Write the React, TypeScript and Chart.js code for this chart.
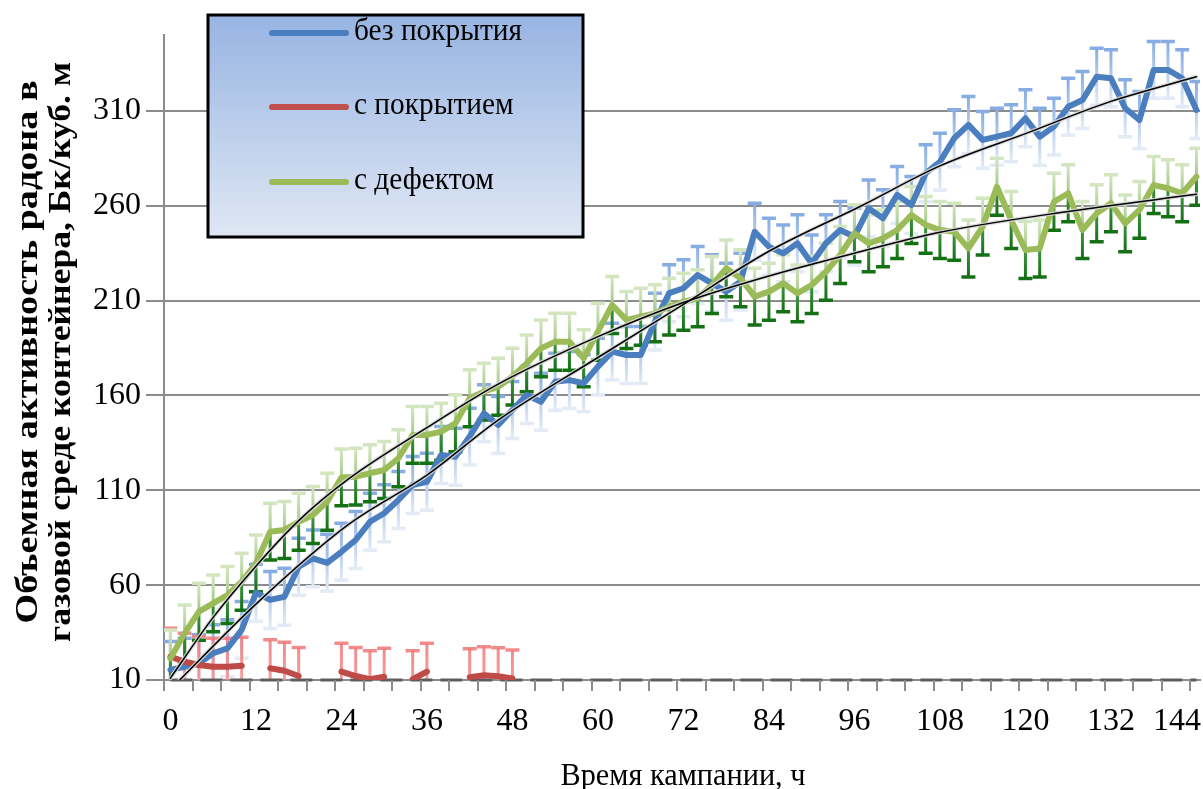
import React, { useEffect, useRef } from "react";
import { Chart, registerables } from "chart.js";

Chart.register(...registerables);

// ---- data ----
const hours = [
  0, 2, 4, 6, 8, 10, 12, 14, 16, 18, 20, 22, 24, 26, 28, 30, 32, 34, 36, 38, 40, 42, 44, 46, 48,
  50, 52, 54, 56, 58, 60, 62, 64, 66, 68, 70, 72, 74, 76, 78, 80, 82, 84, 86, 88, 90, 92, 94, 96,
  98, 100, 102, 104, 106, 108, 110, 112, 114, 116, 118, 120, 122, 124, 126, 128, 130, 132, 134,
  136, 138, 140, 142, 144,
];

const bezPokrytiya = [
  15.3, 17.0, 18.8, 24.1, 26.7, 36.4, 56.0, 52.2, 53.9, 69.7, 74.1, 71.8, 77.6, 83.8, 93.4, 97.9,
  104.9, 112.8, 114.5,
  128.6, 127.7, 138.3, 150.6, 144.4, 152.3, 160.2, 156.7, 167.2, 168.1, 166.4, 175.2, 183.1, 181.3,
  181.3, 198.9, 213.9, 216.5, 223.5,
  219.1, 214.7, 220.0, 246.3, 238.4, 234.9, 240.2, 229.6, 240.2, 247.2, 243.7, 258.6, 253.4, 265.7,
  260.4, 277.1,
  283.2, 295.6, 302.6, 294.7, 296.4, 298.2, 306.1, 296.4, 301.7, 312.2, 315.7, 328.0, 327.2, 311.4,
  305.2, 331.6, 331.6, 327.2, 310.5,
];

const sPokrytiem = [
  22.3, 19.6, 17.9, 17.0, 17.0, 17.5, null, 16.2, 14.9, 12.1, null, null, 14.4, 12.1, 10.4, 11.7,
  null, 10.4, 14.4, null, null, 11.5, 12.5, 12.0, 10.8,
  null, null, null, null, null, null, null, null, null, null, null, null, null, null, null, null,
  null, null, null, null, null, null, null, null, null, null, null, null, null, null, null, null,
  null, null, null, null, null, null, null, null, null, null, null, null, null, null, null, null,
];

const sDefektom = [
  21.4, 34.6, 46.0, 50.4, 54.8, 61.8, 71.5, 88.2, 89.1, 93.4, 97.0, 104.0, 116.8, 117.2, 119.0,
  120.7, 126.9, 139.2, 139.2,
  140.9, 145.3, 158.5, 162.0, 164.6, 169.9, 176.9, 184.8, 188.3, 188.3, 179.6, 193.6, 207.7, 199.8,
  201.5, 203.3, 206.8, 209.4, 211.2,
  218.2, 227.0, 221.8, 212.1, 214.7, 219.1, 213.8, 218.2, 225.2, 234.0, 245.5, 240.2, 242.8, 247.2,
  255.1, 249.9,
  247.2, 246.3, 237.5, 249.0, 270.0, 252.5, 236.7, 237.5, 262.1, 266.6, 247.2, 256.0, 261.3, 250.7,
  257.8, 270.9, 269.2, 266.6, 275.3,
];

// error bar half-lengths (Бк/куб. м)
const errBez = 15;
const errPok = 15;
const errDef = 15;

// trend lines
const trendBezHours = [0, 12, 25, 36, 46, 60, 72, 84, 97, 108, 120, 132, 144];
const trendBezValues = [5, 50, 92, 118, 147, 180, 208, 236, 260, 281, 298, 315, 328];
const trendDefHours = [0, 6, 12, 18, 25, 36, 46, 60, 72, 84, 96, 108, 126, 144];
const trendDefValues = [11, 43, 70, 94, 116, 143, 166, 191, 209, 223, 235, 246, 257, 266];

// grey dashed base line
const baseHours = [0, 144];
const baseValues = [10, 10];

const xLabels = [0, 12, 24, 36, 48, 60, 72, 84, 96, 108, 120, 132, 144];
const yTickValues = [10, 60, 110, 160, 210, 260, 310];

const legendLabels = ["без покрытия", "с покрытием", "с дефектом"];
const xTitle = "Время кампании, ч";
const yTitle = ["Объемная активность радона в", "газовой среде контейнера, Бк/куб. м"];

// ---- styling ----
const SERIF = "'Liberation Serif', 'Times New Roman', serif";
const BLUE = "#4a7ebf";
const RED = "#be4b48";
const GREEN = "#9bbb59";
const GRID = "#8c8c8c";

const pts = (xs: number[], ys: (number | null)[]) => xs.map((x, i) => ({ x, y: ys[i] }));

function drawBars(
  chart: any,
  values: (number | null)[],
  err: number,
  stops: [number, string][],
  capW: number
) {
  const { ctx, scales } = chart;
  const xs = scales.x;
  const ys = scales.y;
  values.forEach((v, i) => {
    if (v == null) return;
    const px = xs.getPixelForValue(hours[i]);
    const yt = ys.getPixelForValue(v + err);
    const yb = ys.getPixelForValue(v - err);
    const g = ctx.createLinearGradient(0, yt, 0, yb);
    stops.forEach(([o, c]) => g.addColorStop(o, c));
    ctx.strokeStyle = g;
    ctx.lineWidth = 3;
    ctx.beginPath();
    ctx.moveTo(px, yt);
    ctx.lineTo(px, yb);
    ctx.stroke();
    ctx.lineWidth = 3.5;
    ctx.beginPath();
    ctx.moveTo(px - capW / 2, yt);
    ctx.lineTo(px + capW / 2, yt);
    ctx.moveTo(px - capW / 2, yb);
    ctx.lineTo(px + capW / 2, yb);
    ctx.stroke();
  });
}

function squeezedText(
  ctx: CanvasRenderingContext2D,
  text: string,
  x: number,
  y: number,
  sx: number,
  align: "left" | "center"
) {
  ctx.save();
  ctx.translate(x, y);
  ctx.scale(sx, 1);
  ctx.textAlign = align;
  ctx.fillText(text, 0, 0);
  ctx.restore();
}

const decor = {
  id: "decor",
  beforeDatasetsDraw(chart: any) {
    const { ctx, chartArea } = chart;
    ctx.save();
    ctx.beginPath();
    ctx.rect(chartArea.left, chartArea.top, chartArea.right - chartArea.left, chartArea.bottom - chartArea.top);
    ctx.clip();
    drawBars(chart, bezPokrytiya, errBez, [[0, "#86ace3"], [1, "#e3ebf7"]], 14);
    drawBars(chart, sPokrytiem, errPok, [[0, "rgba(240,120,120,0.85)"], [1, "rgba(245,150,150,0.85)"]], 14);
    drawBars(
      chart,
      sDefektom,
      errDef,
      [[0, "#d4e6c0"], [0.45, "#a9cc8e"], [0.55, "#3d933c"], [1, "#137013"]],
      14
    );
    ctx.restore();
  },
  afterDraw(chart: any) {
    const { ctx, chartArea, scales } = chart;
    const xs = scales.x;
    ctx.save();
    // x tick marks every 4 h
    ctx.strokeStyle = GRID;
    ctx.lineWidth = 2;
    for (let v = xs.min; v <= xs.max; v += 4) {
      const px = Math.round(xs.getPixelForValue(v));
      ctx.beginPath();
      ctx.moveTo(px, chartArea.bottom);
      ctx.lineTo(px, chartArea.bottom + 11);
      ctx.stroke();
    }
    // x labels
    ctx.fillStyle = "#000";
    ctx.font = `32px ${SERIF}`;
    ctx.textBaseline = "middle";
    ctx.textAlign = "center";
    xLabels.forEach((l) => {
      const s = String(l);
      const w = ctx.measureText(s).width;
      let px = xs.getPixelForValue(l);
      if (px + w / 2 > 1201) px = 1201 - w / 2;
      ctx.fillText(s, px, 722);
    });
    // x title
    ctx.font = `32px ${SERIF}`;
    ctx.textBaseline = "alphabetic";
    const xtw = ctx.measureText(xTitle).width;
    squeezedText(ctx, xTitle, 683, 785, 245 / xtw, "center");
    // y title
    ctx.font = `bold 31px ${SERIF}`;
    ctx.textBaseline = "middle";
    const targets = [543, 580];
    const cxs = [29, 62];
    yTitle.forEach((t, i) => {
      const w = ctx.measureText(t).width;
      ctx.save();
      ctx.translate(cxs[i], 352);
      ctx.rotate(-Math.PI / 2);
      ctx.scale(targets[i] / w, 1);
      ctx.textAlign = "center";
      ctx.fillText(t, 0, 0);
      ctx.restore();
    });
    // legend box
    const bx = 208, by = 15, bw = 375, bh = 222;
    const g = ctx.createLinearGradient(0, by, 0, by + bh);
    g.addColorStop(0, "#97b4e2");
    g.addColorStop(1, "#dfe7f4");
    ctx.fillStyle = g;
    ctx.fillRect(bx, by, bw, bh);
    ctx.strokeStyle = "#000";
    ctx.lineWidth = 3;
    ctx.strokeRect(bx, by, bw, bh);
    const rows = [33, 107, 182];
    const cols = [BLUE, "#c0504d", GREEN];
    ctx.font = `32px ${SERIF}`;
    const sx = 168 / ctx.measureText(legendLabels[0]).width;
    legendLabels.forEach((l, i) => {
      ctx.strokeStyle = cols[i];
      ctx.lineWidth = 6;
      ctx.lineCap = "round";
      ctx.beginPath();
      ctx.moveTo(272, rows[i]);
      ctx.lineTo(346, rows[i]);
      ctx.stroke();
      ctx.fillStyle = "#000";
      ctx.textBaseline = "middle";
      squeezedText(ctx, l, 354, rows[i] - 1, sx, "left");
    });
    ctx.restore();
  },
};

export default function App() {
  const ref = useRef<HTMLCanvasElement>(null);

  useEffect(() => {
    document.body.style.margin = "0";
    const canvas = ref.current;
    if (!canvas) return;
    const lineBase = {
      pointRadius: 0,
      pointHoverRadius: 0,
      tension: 0,
      borderJoinStyle: "round" as const,
      borderCapStyle: "round" as const,
      fill: false,
    };
    const chart = new Chart(canvas, {
      type: "line",
      data: {
        datasets: [
          {
            ...lineBase,
            label: "base",
            data: pts(baseHours, baseValues),
            borderColor: "#5e5e5e",
            borderWidth: 3,
            borderDash: [22, 8],
            borderCapStyle: "butt",
            clip: 4,
            order: 9,
          },
          {
            ...lineBase,
            label: legendLabels[0],
            data: pts(hours, bezPokrytiya),
            borderColor: BLUE,
            borderWidth: 6,
            order: 6,
          },
          {
            ...lineBase,
            label: legendLabels[1],
            data: pts(hours, sPokrytiem),
            borderColor: RED,
            borderWidth: 6,
            spanGaps: false,
            order: 5,
          },
          {
            ...lineBase,
            label: legendLabels[2],
            data: pts(hours, sDefektom),
            borderColor: GREEN,
            borderWidth: 6,
            order: 4,
          },
          {
            ...lineBase,
            label: "trend halo 1",
            data: pts(trendBezHours, trendBezValues),
            borderColor: "rgba(215,215,215,0.9)",
            borderWidth: 4,
            tension: 0.4,
            cubicInterpolationMode: "monotone",
            order: 3,
          },
          {
            ...lineBase,
            label: "trend halo 2",
            data: pts(trendDefHours, trendDefValues),
            borderColor: "rgba(215,215,215,0.9)",
            borderWidth: 4,
            tension: 0.4,
            cubicInterpolationMode: "monotone",
            order: 3,
          },
          {
            ...lineBase,
            label: "trend 1",
            data: pts(trendBezHours, trendBezValues),
            borderColor: "#000",
            borderWidth: 1.5,
            tension: 0.4,
            cubicInterpolationMode: "monotone",
            order: 1,
          },
          {
            ...lineBase,
            label: "trend 2",
            data: pts(trendDefHours, trendDefValues),
            borderColor: "#000",
            borderWidth: 1.5,
            tension: 0.4,
            cubicInterpolationMode: "monotone",
            order: 1,
          },
        ],
      },
      options: {
        animation: false,
        responsive: false,
        maintainAspectRatio: false,
        events: [],
        layout: { padding: { top: 35, right: 3, left: 0, bottom: 0 } },
        plugins: {
          legend: { display: false },
          tooltip: { enabled: false },
          title: { display: false },
        },
        scales: {
          x: {
            type: "linear",
            min: -0.9,
            max: 144.5,
            grid: { display: false },
            border: { display: true, color: GRID, width: 2 },
            ticks: { display: false },
            afterFit: (s: any) => {
              s.height = 109;
            },
          },
          y: {
            type: "linear",
            min: 10,
            max: 350,
            afterBuildTicks: (s: any) => {
              s.ticks = yTickValues.map((v) => ({ value: v }));
            },
            grid: { color: GRID, lineWidth: 2, tickLength: 18, drawTicks: true },
            border: { display: true, color: GRID, width: 2 },
            ticks: {
              color: "#000",
              padding: 5,
              font: { family: SERIF, size: 32 },
            },
            afterFit: (s: any) => {
              s.width = 164;
            },
          },
        },
      },
      plugins: [decor],
    } as any);
    return () => chart.destroy();
  }, []);

  return (
    <div style={{ width: 1203, height: 789, position: "relative", background: "#fff" }}>
      <canvas ref={ref} width={1203} height={789} style={{ display: "block" }} />
    </div>
  );
}
